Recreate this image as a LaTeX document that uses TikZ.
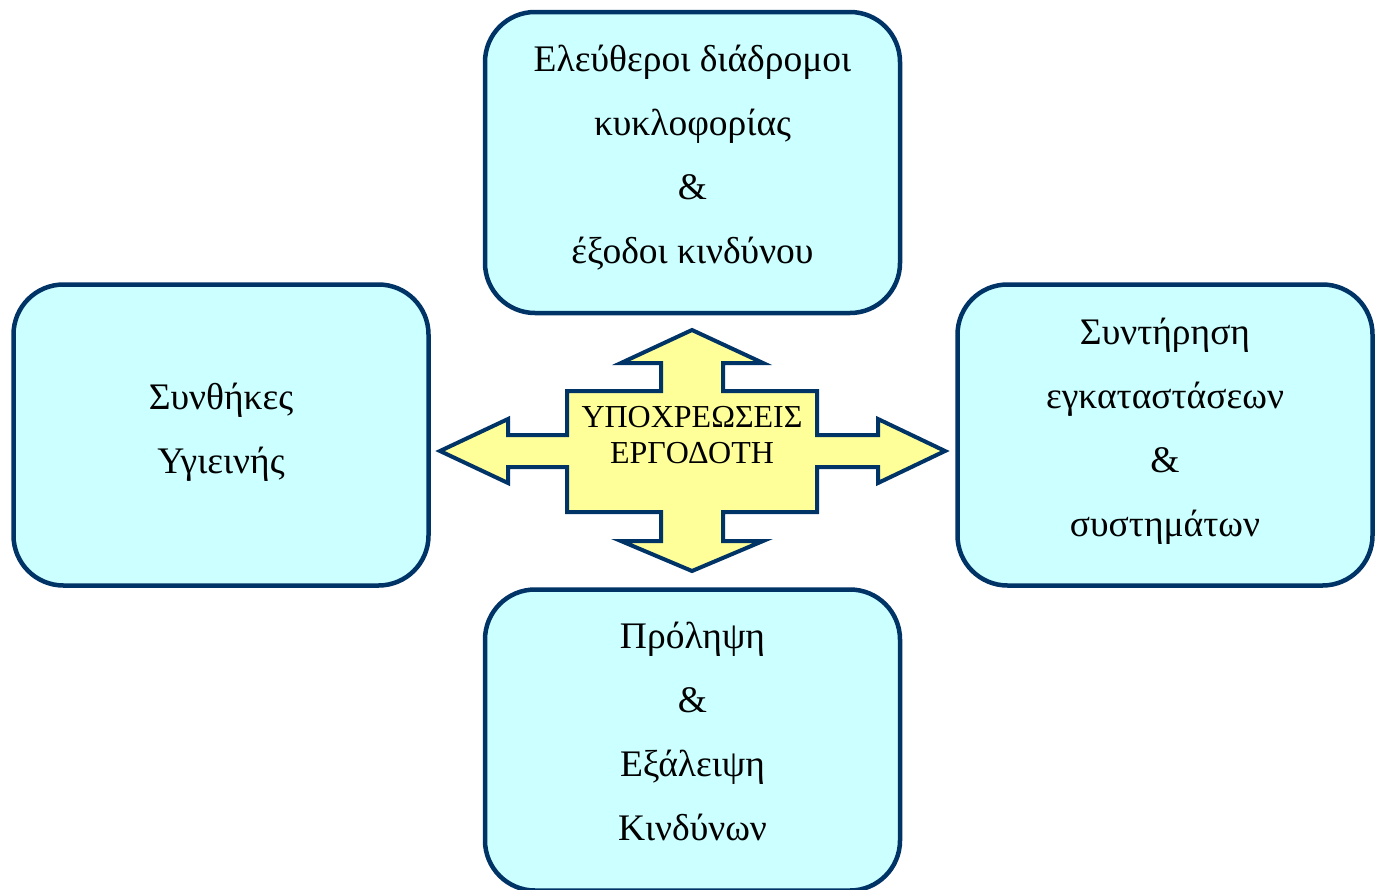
\documentclass[tikz,border=0pt]{standalone}
\usepackage{fontspec}
\setmainfont{Liberation Serif}
\definecolor{navy}{HTML}{003366}
\definecolor{boxfill}{HTML}{CCFFFF}
\definecolor{arrowfill}{HTML}{FFFF99}
\begin{document}
\begin{tikzpicture}[x=1pt,y=-1pt,
  topicbox/.style={draw=navy, line width=4.5pt, fill=boxfill, rounded corners=50pt,
    minimum width=415pt, minimum height=301pt, inner sep=0pt},
  topictext/.style={align=center, inner sep=0pt, font=\fontsize{37.5}{64}\selectfont},
  crossshape/.style={draw=navy, line width=4pt, fill=arrowfill, line join=miter},
  centertext/.style={align=center, font=\fontsize{32}{36}\selectfont, inner sep=0pt}]
\useasboundingbox (0,0) rectangle (1383,889);
\clip (0,0) rectangle (1383,889);
\node[topicbox] (top) at (692.5,162.5) {};
\node[topicbox] (left) at (221,435) {};
\node[topicbox] (right) at (1165,435) {};
\node[topicbox] (bottom) at (692.5,740) {};
\node[topictext] (toptext) at ([yshift=5pt]top.center) {Ελεύθεροι διάδρομοι\\κυκλοφορίας\\\&\\έξοδοι κινδύνου};
\node[topictext] (lefttext) at ([yshift=3pt]left.center) {Συνθήκες\\Υγιεινής};
\node[topictext] (righttext) at ([yshift=4pt]right.center) {Συντήρηση\\εγκαταστάσεων\\\&\\συστημάτων};
\node[topictext] (bottomtext) at ([yshift=9pt]bottom.center) {Πρόληψη\\\&\\Εξάλειψη\\Κινδύνων};
\draw[crossshape] (692,330) -- (763,363) -- (723,363) -- (723,391) -- (817,391) -- (817,435)
  -- (878,435) -- (878,419) -- (945,451) -- (878,483) -- (878,467) -- (817,467)
  -- (817,512) -- (723,512) -- (723,541) -- (763,541) -- (692,571) -- (621,541)
  -- (661,541) -- (661,512) -- (567,512) -- (567,467) -- (508,467) -- (508,483)
  -- (440,451) -- (508,419) -- (508,435) -- (567,435) -- (567,391) -- (661,391)
  -- (661,363) -- (621,363) -- cycle;
\node[centertext] (duties) at (692,435) {ΥΠΟΧΡΕΩΣΕΙΣ\\ΕΡΓΟΔΟΤΗ};
\end{tikzpicture}
\end{document}
